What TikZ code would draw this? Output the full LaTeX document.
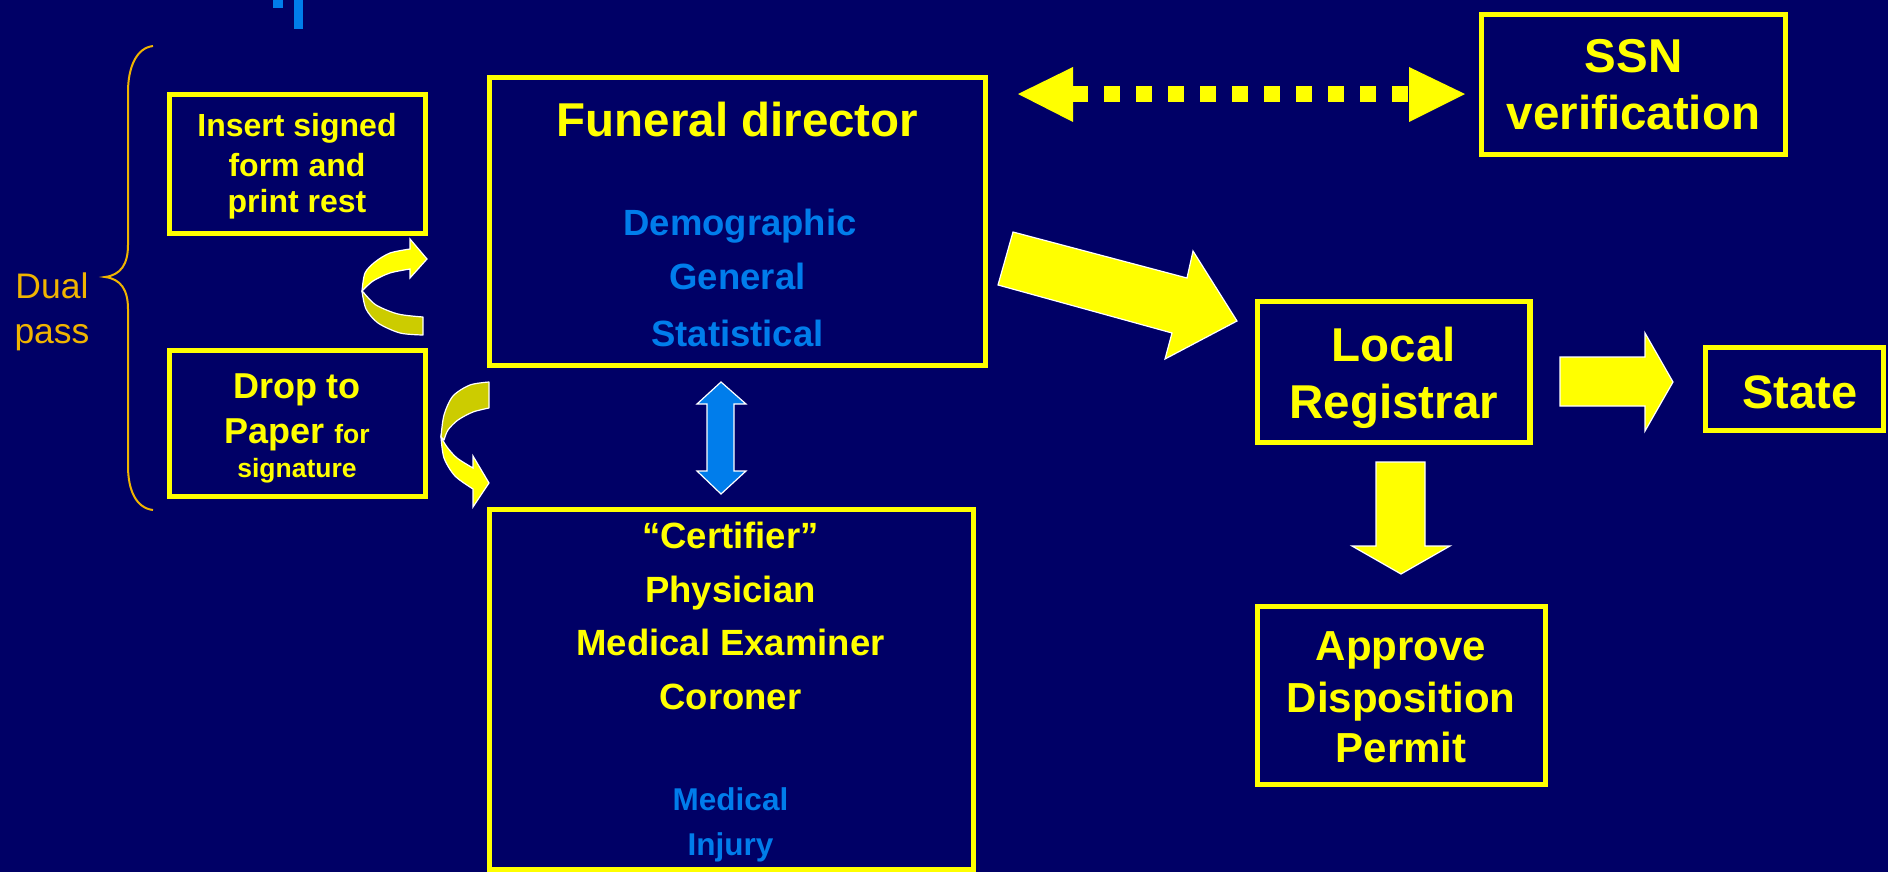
\documentclass[tikz,border=0pt]{standalone}
\usepackage{fontspec}
\setmainfont{Liberation Sans}
\definecolor{bg}{RGB}{0,0,102}
\definecolor{yel}{RGB}{255,255,0}
\definecolor{dyel}{RGB}{204,204,0}
\definecolor{blu}{RGB}{0,125,235}
\definecolor{org}{RGB}{240,180,0}
\newcommand\fsz[1]{\fontsize{#1}{#1}\selectfont}
\tikzset{
  box/.style={draw=yel, line width=5.5pt, inner sep=0pt, rectangle},
  lbl/.style={inner sep=0pt, anchor=base, text=yel, font=\bfseries},
  bl/.style={inner sep=0pt, anchor=base, text=blu, font=\bfseries},
  blk/.style={fill=yel, draw=white, line width=1.2pt, line join=miter},
  blkd/.style={fill=dyel, draw=white, line width=1.2pt, line join=round},
  blkb/.style={fill=blu, draw=white, line width=1.2pt, line join=miter},
}
\begin{document}
\begin{tikzpicture}[x=1pt,y=-1pt]
\useasboundingbox (0,0) rectangle (1888,872);
\fill[bg] (0,0) rectangle (1888,872);
% small blue marks at top
\fill[blu] (273,0) rectangle (283,8);
\fill[blu] (294,0) rectangle (303,29);
% boxes
\node[box, minimum width=256pt, minimum height=139pt] (ins) at (297.5,164) {};
\node[box, minimum width=256pt, minimum height=146pt] (drop) at (297.5,423.5) {};
\node[box, minimum width=496pt, minimum height=288pt] (fd) at (737.5,221.5) {};
\node[box, minimum width=484pt, minimum height=360pt] (cert) at (731.5,689.5) {};
\node[box, minimum width=304pt, minimum height=140pt] (ssn) at (1633.5,84.5) {};
\node[box, minimum width=272.5pt, minimum height=141pt] (lr) at (1393.75,372) {};
\node[box, minimum width=178pt, minimum height=83pt] (st) at (1794.5,389) {};
\node[box, minimum width=288pt, minimum height=178pt] (ap) at (1401.5,695.5) {};
% texts
\node[lbl] (t1) at (297,137) {\fsz{32}Insert signed};
\node[lbl] (t2) at (297,176) {\fsz{32}form and};
\node[lbl] (t3) at (297,212) {\fsz{32}print rest};
\node[lbl] (t4) at (297,398) {\fsz{36}Drop to};
\node[lbl] (t5) at (297,443) {\fsz{36}Paper {\fsz{26.5}for}};
\node[lbl] (t6) at (297,477) {\fsz{26.5}signature};
\node[lbl] (t7) at (737.5,137) {\fsz{47.5}Funeral director};
\node[bl] (t8) at (740,235) {\fsz{36.5}Demographic};
\node[bl] (t9) at (737.5,289) {\fsz{36.5}General};
\node[bl] (t10) at (737.5,346) {\fsz{36.5}Statistical};
\node[lbl] (t11) at (730.5,548) {\fsz{36.5}“Certifier”};
\node[lbl] (t12) at (730.5,602) {\fsz{36.5}Physician};
\node[lbl] (t13) at (730.5,655) {\fsz{36.5}Medical Examiner};
\node[lbl] (t14) at (730.5,709) {\fsz{36.5}Coroner};
\node[bl] (t15) at (730.5,810) {\fsz{31.5}Medical};
\node[bl] (t16) at (730.5,855) {\fsz{31.5}Injury};
\node[lbl] (t17) at (1633.5,73) {\fsz{47.5}SSN};
\node[lbl] (t18) at (1633.5,130) {\fsz{47.5}verification};
\node[lbl] (t19) at (1393.75,361) {\fsz{47.5}Local};
\node[lbl] (t20) at (1393.75,418) {\fsz{47.5}Registrar};
\node[lbl] (t21) at (1800,408) {\fsz{47}State};
\node[lbl] (t22) at (1401,660) {\fsz{42}Approve};
\node[lbl] (t23) at (1401,712) {\fsz{42}Disposition};
\node[lbl] (t24) at (1401,762) {\fsz{42}Permit};
% Dual pass
\node[inner sep=0pt, anchor=base, text=org] (d1) at (52,298) {\fsz{35.5}Dual};
\node[inner sep=0pt, anchor=base, text=org] (d2) at (52,343) {\fsz{35.5}pass};
\draw[org, line width=2pt] (153,46) .. controls (136,48) and (128,68) .. (128,92)
  -- (128,245) .. controls (128,264) and (121,275) .. (105,277)
  .. controls (121,279) and (128,290) .. (128,309)
  -- (128,466) .. controls (128,490) and (136,508) .. (153,510);
% upper curved arrow (insert)
\filldraw[blkd] plot[smooth] coordinates {(423,335) (400,333) (378,323) (366,309) (362,291)}
  -- plot[smooth] coordinates {(364,293) (376,305) (398,314) (423,317)} -- cycle;
\filldraw[blk] plot[smooth] coordinates {(362,291) (365,273) (375,262) (390,253) (410,249)}
  -- (410,239) -- (427,259) -- (410,278) -- (410,269)
  -- plot[smooth] coordinates {(410,269) (390,273) (373,281) (362,291)} -- cycle;
% lower curved arrow (drop)
\filldraw[blkd] plot[smooth] coordinates {(489,382) (470,385) (453,396) (444,415) (441,437)}
  -- plot[smooth] coordinates {(444,440) (448,430) (458,420) (473,412) (489,408)} -- cycle;
\filldraw[blk] plot[smooth] coordinates {(441,437) (444,458) (455,476) (473,489)}
  -- (473,507) -- (489,483) -- (473,456) -- (473,468)
  -- plot[smooth] coordinates {(473,468) (457,458) (447,447) (441,437)} -- cycle;
% blue double arrow fd <-> cert
\filldraw[blkb] (721,382) -- (746,404) -- (734,404) -- (734,471) -- (746,471) -- (721,494)
  -- (697,471) -- (707,471) -- (707,404) -- (697,404) -- cycle;
% diagonal arrow fd -> lr
\filldraw[blk] (1013,232) -- (1187,278) -- (1193,251) -- (1237,321) -- (1165,359)
  -- (1172,333) -- (998,285) -- cycle;
% right arrow lr -> state
\filldraw[blk] (1560,357) -- (1645,357) -- (1645,333) -- (1673,382) -- (1645,431)
  -- (1645,406) -- (1560,406) -- cycle;
% down arrow lr -> approve
\filldraw[blk] (1376,462) -- (1425,462) -- (1425,546) -- (1450,546) -- (1401,574)
  -- (1352,546) -- (1376,546) -- cycle;
% dotted double arrow fd <-> ssn
\fill[yel] (1018,94) -- (1073,67) -- (1073,122) -- cycle;
\fill[yel] (1072,86) rectangle (1088,102);
\foreach \i in {0,...,9} {
  \fill[yel] ({1104+32*\i},86) rectangle ({1120+32*\i},102);
}
\fill[yel] (1409,67) -- (1465,94) -- (1409,122) -- cycle;
\end{tikzpicture}
\end{document}
